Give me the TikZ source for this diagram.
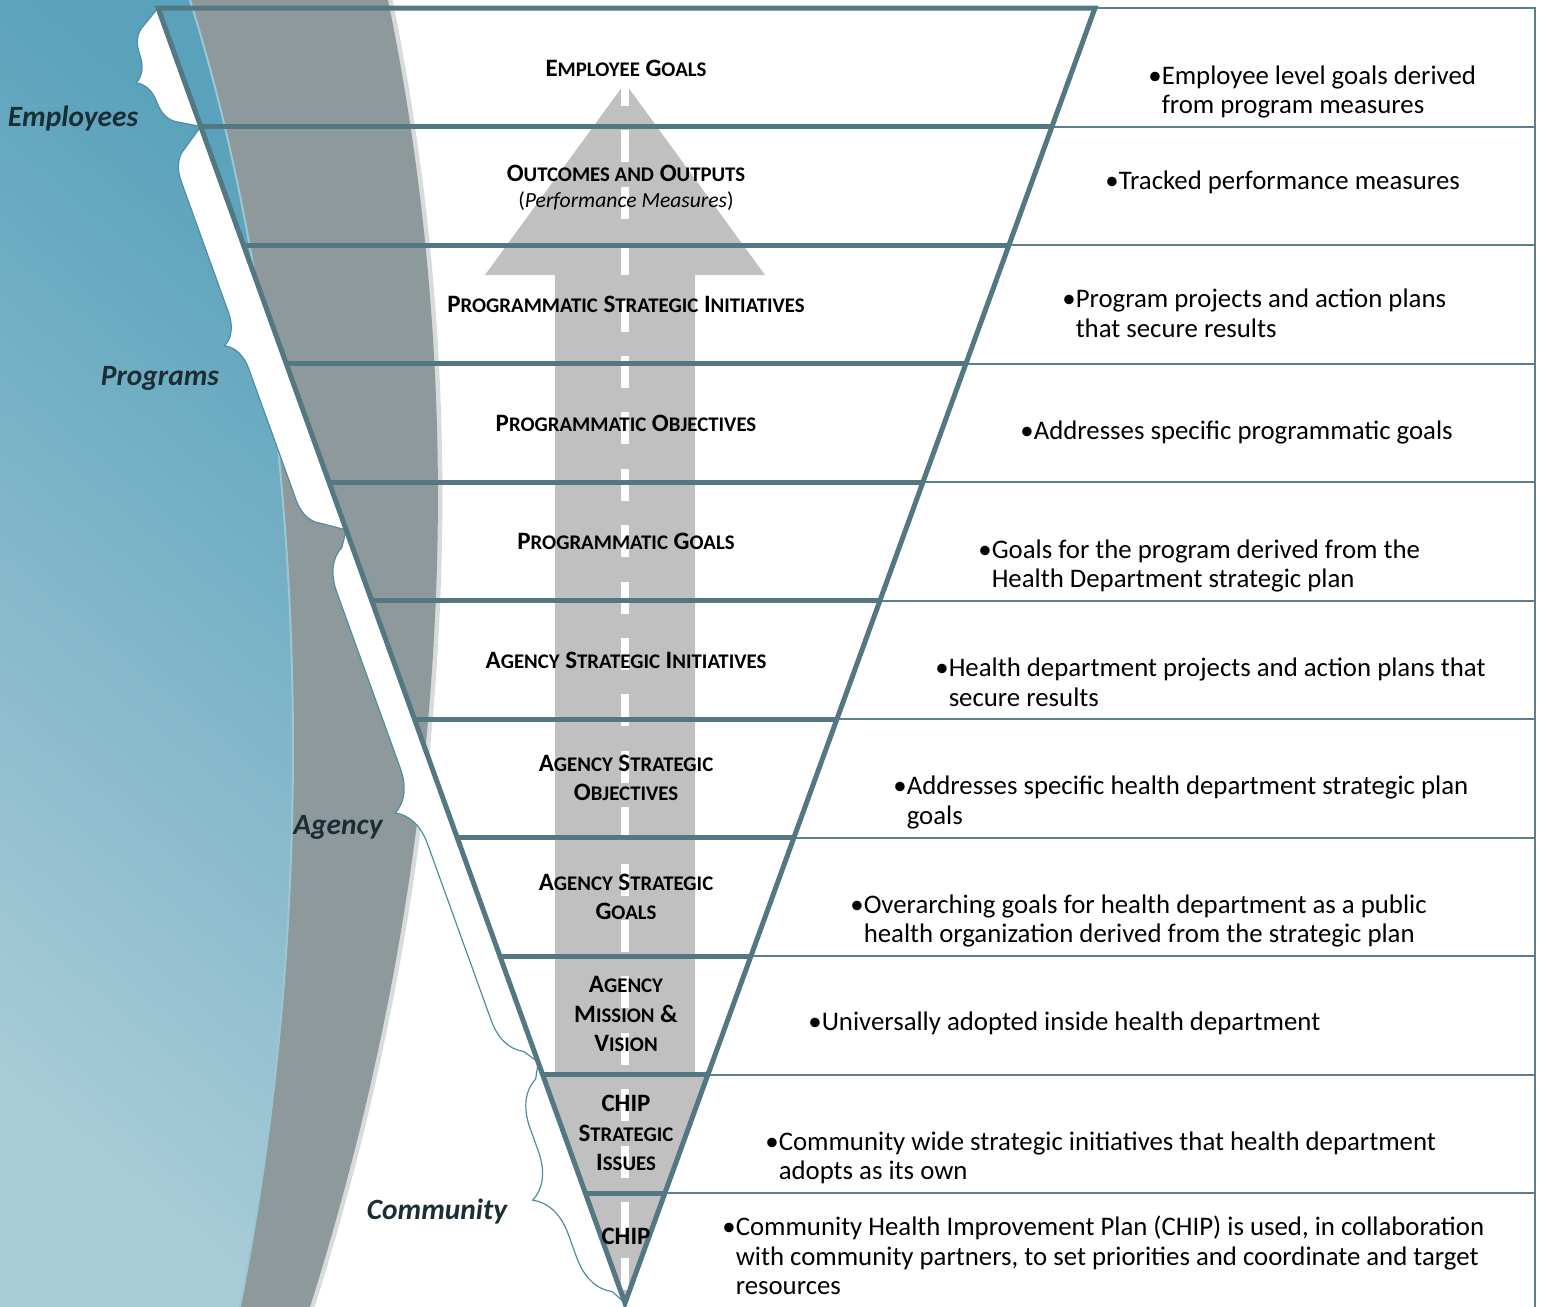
\documentclass[tikz,border=0pt]{standalone}
\usepackage{fontspec}
\setmainfont{Carlito}
\usetikzlibrary{calc,decorations.pathreplacing}

\definecolor{edgeline}{HTML}{547882}
\definecolor{ruleline}{HTML}{5C808A}
\definecolor{band}{HTML}{8E999B}
\definecolor{seaA}{HTML}{5AA2BB}
\definecolor{seaB}{HTML}{A8CBD7}
\definecolor{seaC}{HTML}{9CC6D4}
\definecolor{road}{HTML}{C0C0C0}
\definecolor{bracerim}{HTML}{4F8DA2}
\definecolor{tiertext}{HTML}{1B2E36}

% fake small caps for the funnel labels
\newcommand\smc[1]{{\fontsize{10.4pt}{10pt}\selectfont\MakeUppercase{#1}}}
% bullet with hanging lines
\newcommand\bul[1]{\begin{tabular}{@{}l@{}l@{}}\textbullet&#1\end{tabular}}

\tikzset{
  level/.style={font=\fontsize{12.5pt}{14.75pt}\selectfont\bfseries, align=center, inner sep=0pt},
  note/.style={anchor=west, inner sep=0pt, font=\fontsize{13.4pt}{14.75pt}\selectfont},
  tier/.style={font=\fontsize{14.7pt}{16pt}\selectfont\bfseries\itshape, text=tiertext, inner sep=0pt},
  cut/.style={draw=edgeline, line width=2.5pt},
  rule/.style={draw=ruleline, line width=1pt},
  bracefill/.style={fill=white, draw=bracerim, line width=0.6pt, line join=round},
}

\begin{document}
\begin{tikzpicture}[x=0.5pt,y=-0.5pt]
\useasboundingbox (0,0) rectangle (1543,1307);

% backdrop: grey band and sea
\draw[band!35, line width=2.5pt] (390,0) .. controls (462,350) and (472,800) .. (312,1307);
\fill[band] (0,0) -- (388,0) .. controls (460,350) and (470,800) .. (310,1307) -- (0,1307) -- cycle;
\shade[top color=seaA, bottom color=seaB, shading angle=-40]
  (0,0) -- (190,0) .. controls (300,350) and (330,850) .. (240,1307) -- (0,1307) -- cycle;
\draw[seaC, line width=1pt] (190,0) .. controls (300,350) and (330,850) .. (240,1307);

% funnel corners, row ends
\coordinate (apex) at (625,1303);
\foreach \i in {0,...,10} {
  \pgfmathsetmacro\yy{8+118.5*\i}
  \coordinate (L\i) at ({158+0.36062*(\yy-8)},\yy);
  \coordinate (R\i) at ({1095-0.36293*(\yy-8)},\yy);
  \coordinate (E\i) at (1535,\yy);
}
\coordinate (E11) at (1535,1307);
\coordinate (tip) at (625,83);
\coordinate (dash) at (625,74);

% road arrow
\begin{scope}
  \clip (L0) -- (R0) -- (apex) -- cycle;
  \fill[road] (tip) -- (765,275) -- (695,275) -- (695,1310) -- (555,1310)
    -- (555,275) -- (485,275) -- cycle;
  \fill[road] (L9) -- (R9) -- (apex) -- cycle;
  \draw[white, line width=4pt, dash pattern=on 16pt off 12.2pt] (dash) -- (apex);
\end{scope}

% braces along the left side
\coordinate (b1) at ($(L0)!0.403!(apex)$);
\coordinate (b2) at ($(L0)!0.814!(apex)$);
\path[bracefill] decorate[decoration={brace, amplitude=13pt}]
  {($(L1)!6pt!(L0)!10pt!90:(L0)$) -- ($(L0)!6pt!(L1)!10pt!-90:(L1)$)} -- (L0) -- (L1) -- cycle;
\path[bracefill] decorate[decoration={brace, amplitude=15pt}]
  {($(b1)!7.5pt!(L1)!11pt!90:(L1)$) -- ($(L1)!7.5pt!(b1)!11pt!-90:(b1)$)} -- (L1) -- (b1) -- cycle;
\path[bracefill] decorate[decoration={brace, amplitude=20pt}]
  {($(b2)!7.5pt!(b1)!5pt!90:(b1)$) -- ($(b1)!7.5pt!(b2)!5pt!-90:(b2)$)} -- (b1) -- (b2) -- cycle;
\path[bracefill] decorate[decoration={brace, amplitude=22pt}]
  {($(apex)!7.5pt!(b2)!4pt!90:(b2)$) -- ($(b2)!7.5pt!(apex)!4pt!-90:(apex)$)} -- (b2) -- (apex) -- cycle;

% table rules
\foreach \i in {1,...,10}
  \draw[rule] (R\i) -- (E\i);
\draw[rule] (R0) -- (E0) -- (E11);

% funnel
\foreach \i in {1,...,10}
  \draw[cut] (L\i) -- (R\i);
\draw[cut] (L0) -- (R0) -- (apex) -- cycle;

% tiers
\node[tier] (employees) at (73,118) {Employees};
\node[tier] (programs) at (160,378) {Programs};
\node[tier] (agency) at (338,827) {Agency};
\node[tier] (community) at (437,1211) {Community};

% funnel levels
\node[level] (lvl1) at (626,68) {E\smc{mployee} G\smc{oals}};
\node[level] (lvl2) at (626,188) {O\smc{utcomes and} O\smc{utputs}\\[-1.8pt]
  {\fontsize{10.8pt}{12pt}\selectfont\mdseries(\textit{Performance Measures})}};
\node[level] (lvl3) at (626,304) {P\smc{rogrammatic} S\smc{trategic} I\smc{nitiatives}};
\node[level] (lvl4) at (626,423) {P\smc{rogrammatic} O\smc{bjectives}};
\node[level] (lvl5) at (626,541) {P\smc{rogrammatic} G\smc{oals}};
\node[level] (lvl6) at (626,660) {A\smc{gency} S\smc{trategic} I\smc{nitiatives}};
\node[level] (lvl7) at (626,778) {A\smc{gency} S\smc{trategic}\\O\smc{bjectives}};
\node[level] (lvl8) at (626,897) {A\smc{gency} S\smc{trategic}\\G\smc{oals}};
\node[level] (lvl9) at (626,1014) {A\smc{gency}\\M\smc{ission} \&\\V\smc{ision}};
\node[level] (lvl10) at (626,1133) {CHIP\\S\smc{trategic}\\I\smc{ssues}};
\node[level] (lvl11) at (626,1236) {CHIP};

% notes
\node[note] (n1) at (1148,93) {\bul{Employee level goals derived\\&from program measures}};
\node[note] (n2) at (1105,183.5) {\bul{Tracked performance measures}};
\node[note] (n3) at (1062,316.5) {\bul{Program projects and action plans\\&that secure results}};
\node[note] (n4) at (1020,433.5) {\bul{Addresses specific programmatic goals}};
\node[note] (n5) at (978,567) {\bul{Goals for the program derived from the\\&Health Department strategic plan}};
\node[note] (n6) at (935,685.5) {\bul{Health department projects and action plans that\\&secure results}};
\node[note] (n7) at (893,803.5) {\bul{Addresses specific health department strategic plan\\&goals}};
\node[note] (n8) at (850,922) {\bul{Overarching goals for health department as a public\\&health organization derived from the strategic plan}};
\node[note] (n9) at (808,1024.5) {\bul{Universally adopted inside health department}};
\node[note] (n10) at (765,1159) {\bul{Community wide strategic initiatives that health department\\&adopts as its own}};
\node[note] (n11) at (722,1259.5) {\bul{Community Health Improvement Plan (CHIP) is used, in collaboration\\&with community partners, to set priorities and coordinate and target\\&resources}};
\end{tikzpicture}
\end{document}
